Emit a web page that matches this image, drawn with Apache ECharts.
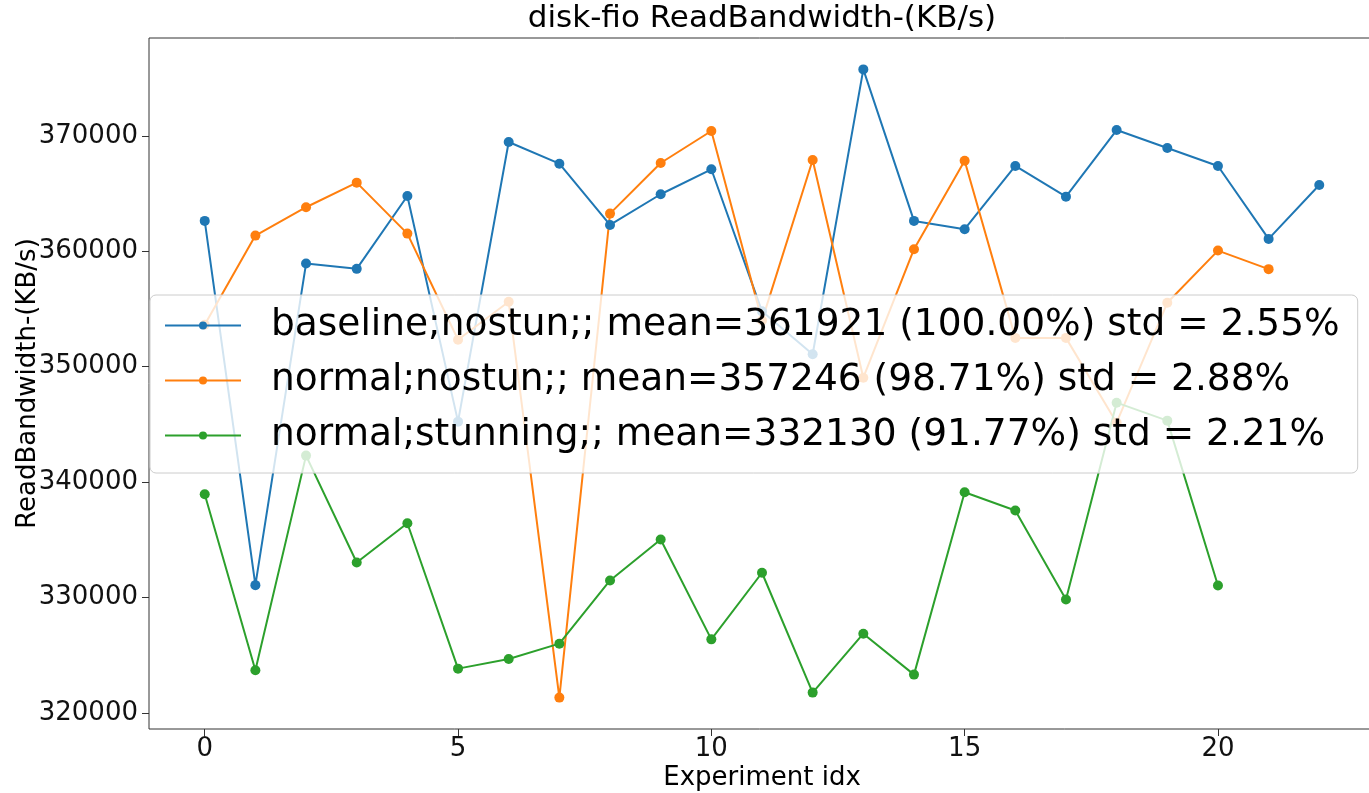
<!DOCTYPE html>
<html>
<head>
<meta charset="utf-8">
<script src="https://cdn.jsdelivr.net/npm/echarts@6/dist/echarts.min.js"></script>
<style>
html,body{margin:0;padding:0;background:#fff;}
#chart{width:1369px;height:793px;}
</style>
</head>
<body>
<div id="chart"></div>
<script>
const titleText = 'disk-fio ReadBandwidth-(KB/s)';
const xName = 'Experiment idx';
const yName = 'ReadBandwidth-(KB/s)';
const xTicks = [0, 5, 10, 15, 20];
const yTicks = [320000, 330000, 340000, 350000, 360000, 370000];

const seriesNames = [
  'baseline;nostun;; mean=361921 (100.00%) std = 2.55%',
  'normal;nostun;; mean=357246 (98.71%) std = 2.88%',
  'normal;stunning;; mean=332130 (91.77%) std = 2.21%'
];
const baseline = [362641, 331065, 358944, 358485, 364805, 345238, 369481, 367602, 362294, 364952, 367117, 354800, 351080, 375775, 362641, 361922, 367403, 364745, 370519, 368961, 367403, 361082, 365758];
const normalNostun = [353636, 361368, 363827, 365957, 361541, 352338, 355628, 321316, 363273, 367662, 370433, 354000, 367922, 349048, 360190, 367861, 352500, 352500, 345152, 355541, 360069, 358459];
const normalStunning = [338944, 323680, 342294, 333030, 336433, 323827, 324658, 325991, 331472, 335022, 326364, 332139, 321749, 326857, 323307, 339117, 337532, 329827, 346883, 345325, 331039];
const colors = ['#1f77b4', '#ff7f0e', '#2ca02c'];

const allSeries = [baseline, normalNostun, normalStunning];
const allVals = allSeries.flat();
const yMinD = Math.min(...allVals), yMaxD = Math.max(...allVals);
const yPad = (yMaxD - yMinD) * 0.05;
const xMaxD = Math.max(...allSeries.map(s => s.length - 1));
const xPad = xMaxD * 0.05;

const FONT = 'DejaVu Sans';
const chart = echarts.init(document.getElementById('chart'), null, {renderer: 'canvas'});
chart.setOption({
  animation: false,
  backgroundColor: '#fff',
  color: colors,
  textStyle: {fontFamily: FONT},
  title: {
    text: titleText,
    left: 762, top: 3, textAlign: 'center', padding: 0,
    textStyle: {fontFamily: FONT, fontSize: 31, fontWeight: 'normal', color: '#000'}
  },
  grid: {
    left: 149, top: 38, bottom: 64, right: -6,
    containLabel: false, outerBoundsMode: 'none',
    show: true, borderColor: '#333', borderWidth: 1, backgroundColor: 'transparent'
  },
  legend: {
    orient: 'vertical', left: 150, top: 295,
    padding: [8, 18, 15, 14],
    itemWidth: 76, itemHeight: 10, itemGap: 10,
    lineStyle: {width: 2},
    backgroundColor: 'rgba(255,255,255,0.8)',
    borderColor: '#cccccc', borderWidth: 1, borderRadius: 6,
    textStyle: {fontFamily: FONT, fontSize: 37.5, color: '#000', lineHeight: 45, padding: [0, 0, 0, 25]},
    data: seriesNames
  },
  xAxis: {
    type: 'value', min: -xPad, max: xMaxD + xPad,
    name: xName, nameLocation: 'middle', nameGap: 36, nameMoveOverlap: false,
    nameTextStyle: {fontFamily: FONT, fontSize: 26, color: '#000'},
    axisLine: {show: false, onZero: false},
    splitLine: {show: false},
    axisTick: {show: true, length: 7, lineStyle: {color: '#333', width: 1}, customValues: xTicks},
    axisLabel: {fontFamily: FONT, fontSize: 26, color: '#111', margin: 7, customValues: xTicks,
      formatter: v => String(v)}
  },
  yAxis: {
    type: 'value', min: yMinD - yPad, max: yMaxD + yPad,
    name: yName, nameLocation: 'middle', nameGap: 108, nameRotate: 90, nameMoveOverlap: false,
    nameTextStyle: {fontFamily: FONT, fontSize: 26, color: '#000'},
    axisLine: {show: false, onZero: false},
    splitLine: {show: false},
    axisTick: {show: true, length: 7, lineStyle: {color: '#333', width: 1}, customValues: yTicks},
    axisLabel: {fontFamily: FONT, fontSize: 26, color: '#111', margin: 11, customValues: yTicks,
      formatter: v => String(v)}
  },
  series: allSeries.map((arr, k) => ({
    name: seriesNames[k],
    type: 'line',
    data: arr.map((v, i) => [i, v]),
    symbol: 'circle', symbolSize: 10, showSymbol: true,
    lineStyle: {width: 2, color: colors[k]},
    itemStyle: {color: colors[k]},
    emphasis: {disabled: true}
  }))
});
</script>
</body>
</html>
